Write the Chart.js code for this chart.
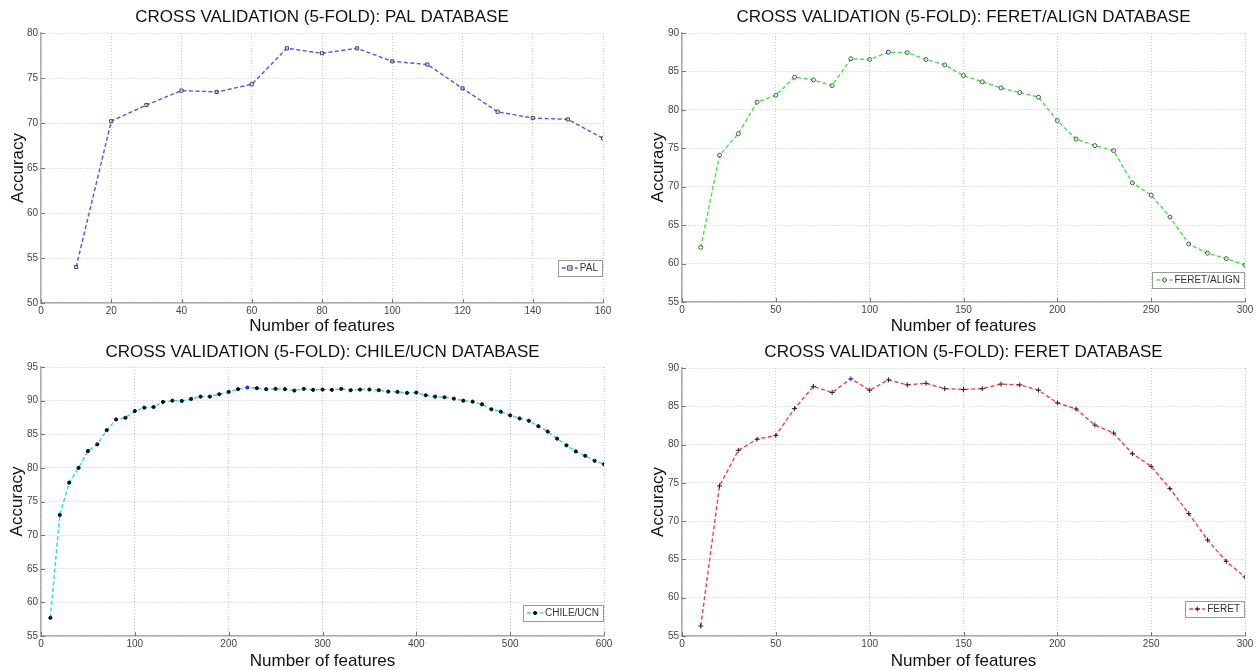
<!DOCTYPE html>
<html>
<head>
<meta charset="utf-8">
<script src="https://cdn.jsdelivr.net/npm/chart.js@4/dist/chart.umd.min.js"></script>
<style>
  html, body { margin: 0; padding: 0; background: #fff; }
  #wrap { position: relative; width: 1256px; height: 670px; overflow: hidden; }
  .panel { position: absolute; width: 628px; height: 335px; }
</style>
</head>
<body>
<div id="wrap">
  <div class="panel" style="left:0;top:0"><canvas id="c1"></canvas></div>
  <div class="panel" style="left:628px;top:0"><canvas id="c2"></canvas></div>
  <div class="panel" style="left:0;top:335px"><canvas id="c3"></canvas></div>
  <div class="panel" style="left:628px;top:335px"><canvas id="c4"></canvas></div>
</div>
<script>
// ---------- DATA ----------
const palFeatures = [10,20,30,40,50,60,70,80,90,100,110,120,130,140,150,160];
const palAccuracy = [54.0,70.2,72.0,73.6,73.45,74.3,78.3,77.75,78.3,76.85,76.5,73.85,71.25,70.55,70.4,68.3];

const feretAlignFeatures = [10,20,30,40,50,60,70,80,90,100,110,120,130,140,150,160,170,180,190,200,210,220,230,240,250,260,270,280,290,300];
const feretAlignAccuracy = [62.1,74.1,76.9,81.0,81.9,84.25,83.9,83.15,86.65,86.55,87.5,87.45,86.55,85.85,84.45,83.65,82.85,82.25,81.65,78.6,76.2,75.35,74.7,70.5,68.9,66.05,62.55,61.35,60.65,59.8];

const chileFeatures = [10,20,30,40,50,60,70,80,90,100,110,120,130,140,150,160,170,180,190,200,210,220,230,240,250,260,270,280,290,300,310,320,330,340,350,360,370,380,390,400,410,420,430,440,450,460,470,480,490,500,510,520,530,540,550,560,570,580,590,600];
const chileAccuracy = [57.7,73.0,77.8,80.0,82.5,83.5,85.6,87.2,87.45,88.45,88.95,89.05,89.8,90.0,89.95,90.25,90.6,90.6,90.95,91.3,91.7,91.95,91.85,91.7,91.75,91.7,91.5,91.75,91.6,91.65,91.6,91.75,91.55,91.65,91.65,91.55,91.35,91.3,91.15,91.2,90.8,90.6,90.5,90.3,90.0,89.85,89.45,88.7,88.35,87.8,87.35,87.0,86.2,85.4,84.35,83.35,82.45,81.8,81.05,80.55];

const feretFeatures = [10,20,30,40,50,60,70,80,90,100,110,120,130,140,150,160,170,180,190,200,210,220,230,240,250,260,270,280,290,300];
const feretAccuracy = [56.3,74.6,79.25,80.7,81.2,84.7,87.6,86.8,88.6,87.1,88.45,87.8,88.0,87.3,87.2,87.3,87.9,87.8,87.1,85.45,84.65,82.55,81.5,78.8,77.15,74.25,71.0,67.55,64.75,62.7];

const titles = [
  'CROSS VALIDATION (5-FOLD): PAL DATABASE',
  'CROSS VALIDATION (5-FOLD): FERET/ALIGN DATABASE',
  'CROSS VALIDATION (5-FOLD): CHILE/UCN DATABASE',
  'CROSS VALIDATION (5-FOLD): FERET DATABASE'
];
const seriesNames = ['PAL', 'FERET/ALIGN', 'CHILE/UCN', 'FERET'];
const xAxisLabel = 'Number of features';
const yAxisLabel = 'Accuracy';

// ---------- RENDERING ----------
const FONT = "'Liberation Sans', Arial, Helvetica, sans-serif";
Chart.defaults.font.family = FONT;
Chart.defaults.animation = false;

const titlePlugin = {
  id: 'panelTitle',
  afterDraw(chart, args, opts) {
    const {ctx, chartArea} = chart;
    ctx.save();
    ctx.font = '17px ' + FONT;
    ctx.fillStyle = '#111';
    ctx.textAlign = 'center';
    ctx.textBaseline = 'middle';
    ctx.fillText(opts.text, (chartArea.left + chartArea.right) / 2, opts.y);
    ctx.restore();
  }
};

const innerTicks = {
  id: 'innerTicks',
  afterDraw(chart) {
    const {ctx, chartArea, scales} = chart;
    ctx.save();
    ctx.strokeStyle = '#777';
    ctx.lineWidth = 1;
    ctx.beginPath();
    scales.x.ticks.forEach(t => {
      const px = Math.round(scales.x.getPixelForValue(t.value)) + 0.5;
      ctx.moveTo(px, chartArea.bottom);
      ctx.lineTo(px, chartArea.bottom - 4);
    });
    scales.y.ticks.forEach(t => {
      const py = Math.round(scales.y.getPixelForValue(t.value)) + 0.5;
      ctx.moveTo(chartArea.left, py);
      ctx.lineTo(chartArea.left + 4, py);
    });
    ctx.stroke();
    ctx.restore();
  }
};

function drawMarker(ctx, style, x, y, r, stroke, fill) {
  ctx.save();
  ctx.strokeStyle = stroke;
  ctx.fillStyle = fill;
  ctx.lineWidth = 1;
  ctx.setLineDash([]);
  ctx.beginPath();
  if (style === 'rect') {
    ctx.rect(x - r, y - r, 2 * r, 2 * r);
    ctx.fill(); ctx.stroke();
  } else if (style === 'circle') {
    ctx.arc(x, y, r, 0, Math.PI * 2);
    ctx.fill(); ctx.stroke();
  } else if (style === 'cross') {
    ctx.moveTo(x - r, y); ctx.lineTo(x + r, y);
    ctx.moveTo(x, y - r); ctx.lineTo(x, y + r);
    ctx.stroke();
  }
  ctx.restore();
}

const boxLegend = {
  id: 'boxLegend',
  afterDraw(chart, args, opts) {
    const {ctx, chartArea} = chart;
    const ds = chart.data.datasets[0];
    ctx.save();
    ctx.font = '10px ' + FONT;
    const tw = ctx.measureText(ds.label).width;
    const sample = 16;
    const w = 4 + sample + 2 + tw + 4;
    const h = 16;
    const x1 = chartArea.right - 1 - w;
    const y1 = chartArea.bottom - opts.bottomGap - h;
    ctx.fillStyle = '#fff';
    ctx.fillRect(x1, y1, w, h);
    ctx.strokeStyle = '#999';
    ctx.lineWidth = 1;
    ctx.strokeRect(Math.round(x1) + 0.5, Math.round(y1) + 0.5, Math.round(w), h);
    const cy = y1 + h / 2;
    ctx.strokeStyle = ds.borderColor;
    ctx.lineWidth = ds.borderWidth;
    ctx.setLineDash(ds.borderDash);
    ctx.beginPath();
    ctx.moveTo(x1 + 4, cy);
    ctx.lineTo(x1 + 4 + sample, cy);
    ctx.stroke();
    drawMarker(ctx, ds.pointStyle, x1 + 4 + sample / 2, cy, ds.pointRadius, opts.markerStroke, opts.markerFill);
    ctx.fillStyle = '#333';
    ctx.textAlign = 'left';
    ctx.textBaseline = 'middle';
    ctx.fillText(ds.label, x1 + 4 + sample + 2, cy + 0.5);
    ctx.restore();
  }
};

function makeChart(id, cfg) {
  const pts = cfg.xs.map((x, i) => ({x: x, y: cfg.ys[i]}));
  const maxY = Math.max(...cfg.ys);
  const markerColor = ctx => (cfg.highlightMax && ctx.raw && ctx.raw.y === maxY ? '#3030c0' : cfg.markerStroke);
  new Chart(document.getElementById(id), {
    type: 'line',
    data: {
      datasets: [{
        label: cfg.name,
        data: pts,
        borderColor: cfg.color,
        borderWidth: 1.4,
        borderDash: [4, 2.5],
        pointStyle: cfg.pointStyle,
        pointRadius: cfg.pointRadius,
        pointBorderWidth: 1,
        pointBorderColor: markerColor,
        pointBackgroundColor: cfg.pointStyle === 'circle' && cfg.filled ? markerColor : cfg.markerFill,
        tension: 0,
        fill: false
      }]
    },
    options: {
      responsive: true,
      maintainAspectRatio: false,
      events: [],
      layout: { padding: { left: 0, right: 628 - cfg.area.right, top: cfg.area.top, bottom: 0 } },
      plugins: {
        legend: { display: false },
        tooltip: { enabled: false },
        panelTitle: { text: cfg.title, y: 17 },
        boxLegend: { bottomGap: cfg.legendGap, markerStroke: cfg.markerStroke, markerFill: cfg.filled ? cfg.markerStroke : cfg.markerFill }
      },
      scales: {
        x: {
          type: 'linear',
          min: 0, max: cfg.xMax,
          afterFit: s => { s.height = 335 - cfg.area.bottom; },
          ticks: { stepSize: cfg.xStep, color: '#444', font: { size: 10 }, padding: 2, maxRotation: 0 },
          grid: { color: '#c8c8c8', lineWidth: 1, drawTicks: false },
          border: { display: true, color: '#aaa', width: 1.5, dash: [1, 2] },
          title: { display: true, text: xAxisLabel, color: '#111', font: { size: 17, lineHeight: 1 }, padding: { top: 0, bottom: 0.5 } }
        },
        y: {
          type: 'linear',
          min: cfg.yMin, max: cfg.yMax,
          afterFit: s => { s.width = cfg.area.left; },
          ticks: { stepSize: 5, color: '#444', font: { size: 10 }, padding: 3 },
          grid: { color: '#c8c8c8', lineWidth: 1, drawTicks: false },
          border: { display: true, color: '#aaa', width: 1.5, dash: [1, 2] },
          title: { display: true, text: yAxisLabel, color: '#111', font: { size: 17, lineHeight: 1.2 }, padding: { top: cfg.yTitleCenter - 10.2, bottom: 0 } }
        }
      }
    },
    plugins: [titlePlugin, innerTicks, boxLegend]
  });
}

makeChart('c1', {
  xs: palFeatures, ys: palAccuracy, name: seriesNames[0], title: titles[0],
  color: 'rgba(50,50,255,0.85)', pointStyle: 'rect', pointRadius: 2.2, markerStroke: '#444', markerFill: 'rgba(255,255,255,0.5)', filled: false, highlightMax: false,
  xMax: 160, xStep: 20, yMin: 50, yMax: 80,
  area: { left: 41, right: 603, top: 33, bottom: 303 }, yTitleCenter: 18, legendGap: 27
});
makeChart('c2', {
  xs: feretAlignFeatures, ys: feretAlignAccuracy, name: seriesNames[1], title: titles[1],
  color: 'rgba(40,230,40,0.9)', pointStyle: 'circle', pointRadius: 2, markerStroke: '#555', markerFill: 'rgba(255,255,255,0.5)', filled: false, highlightMax: true,
  xMax: 300, xStep: 50, yMin: 55, yMax: 90,
  area: { left: 54, right: 617, top: 33, bottom: 302 }, yTitleCenter: 30, legendGap: 14
});
makeChart('c3', {
  xs: chileFeatures, ys: chileAccuracy, name: seriesNames[2], title: titles[2],
  color: 'rgba(20,220,220,0.95)', pointStyle: 'circle', pointRadius: 1.6, markerStroke: '#111', markerFill: '#111', filled: true, highlightMax: true,
  xMax: 600, xStep: 100, yMin: 55, yMax: 95,
  area: { left: 41, right: 604, top: 32, bottom: 301 }, yTitleCenter: 17, legendGap: 15
});
makeChart('c4', {
  xs: feretFeatures, ys: feretAccuracy, name: seriesNames[3], title: titles[3],
  color: 'rgba(255,40,40,0.9)', pointStyle: 'cross', pointRadius: 2.5, markerStroke: '#222', markerFill: '#222', filled: false, highlightMax: true,
  xMax: 300, xStep: 50, yMin: 55, yMax: 90,
  area: { left: 54, right: 617, top: 33, bottom: 301 }, yTitleCenter: 30, legendGap: 19
});
</script>
</body>
</html>
